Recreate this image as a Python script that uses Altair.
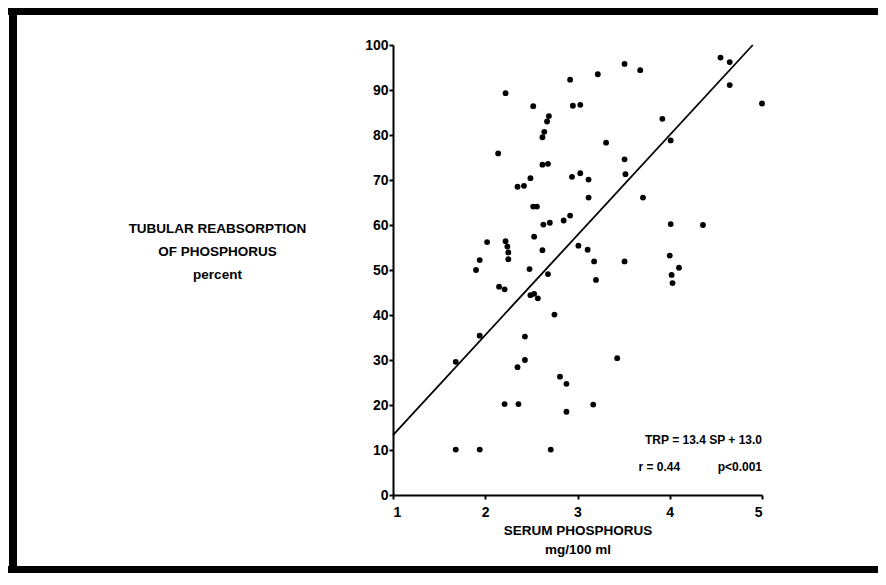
import altair as alt
import pandas as pd

# Serum phosphorus (mg/100 ml) and tubular reabsorption of phosphorus (percent)
sp = [2.22, 2.52, 2.14, 2.49, 2.35, 2.42, 2.92, 3.22, 3.51, 3.68,
      2.95, 3.03, 2.69, 2.67, 2.64, 2.62, 2.62, 2.68, 2.94, 3.03,
      3.12, 3.31, 3.51, 3.52, 3.92, 4.01, 4.55, 4.65, 4.65, 5.00,
      2.52, 2.56, 1.90, 1.94, 2.02, 2.22, 2.24, 2.25, 2.25, 2.15,
      2.21, 2.53, 2.48, 2.49, 2.53, 2.57, 1.94, 2.43, 3.12, 3.71,
      2.63, 2.70, 2.85, 2.92, 4.01, 4.36, 2.62, 3.01, 3.11, 3.18,
      3.51, 4.00, 4.10, 4.02, 4.03, 3.20, 2.68, 2.75, 1.68, 2.35,
      2.43, 2.21, 2.36, 1.68, 1.94, 3.43, 2.81, 2.88, 2.88, 3.17,
      2.71]
trp = [89.3, 86.4, 75.9, 70.4, 68.5, 68.7, 92.3, 93.5, 95.8, 94.4,
       86.5, 86.7, 84.2, 83.0, 80.7, 79.5, 73.4, 73.6, 70.7, 71.5,
       70.1, 78.3, 74.6, 71.3, 83.6, 78.8, 97.2, 96.2, 91.1, 87.0,
       64.1, 64.1, 50.0, 52.2, 56.2, 56.4, 55.2, 53.9, 52.4, 46.3,
       45.7, 57.4, 50.2, 44.4, 44.7, 43.7, 35.4, 35.2, 66.1, 66.1,
       60.1, 60.5, 61.0, 62.1, 60.2, 60.0, 54.4, 55.4, 54.5, 51.9,
       51.9, 53.2, 50.5, 48.9, 47.1, 47.8, 49.1, 40.1, 29.6, 28.4,
       30.0, 20.2, 20.2, 10.1, 10.1, 30.4, 26.3, 24.7, 18.5, 20.1,
       10.1]

# Regression line as drawn
fit_sp = [1.0, 4.9]
fit_trp = [13.3, 100.0]

# Annotations
note_right_text = ["TRP = 13.4 SP + 13.0", "p<0.001"]
note_right_sp = [5.0, 5.0]
note_right_trp = [12.2, 6.2]
note_left_text = ["r = 0.44"]
note_left_sp = [3.66]
note_left_trp = [6.2]

x_ticks = [1, 2, 3, 4, 5]
y_ticks = [0, 10, 20, 30, 40, 50, 60, 70, 80, 90, 100]

FONT = "Liberation Sans"

pts = pd.DataFrame({"sp": sp, "trp": trp})
fit = pd.DataFrame({"sp": fit_sp, "trp": fit_trp})
nr = pd.DataFrame({"sp": note_right_sp, "trp": note_right_trp, "t": note_right_text})
nl = pd.DataFrame({"sp": note_left_sp, "trp": note_left_trp, "t": note_left_text})
one = pd.DataFrame({"k": [0]})

xscale = alt.Scale(domain=[1, 5], nice=False, zero=False)
yscale = alt.Scale(domain=[0, 100], nice=False, zero=False)

xaxis = alt.Axis(values=x_ticks, format="d", title=["SERUM PHOSPHORUS", "mg/100 ml"],
                 titleFontSize=13.5, titleFont=FONT, titleFontWeight="bold",
                 titleBaseline="top", titleY=28, titleLineHeight=19, titleColor="black",
                 labelPadding=6)
yaxis = alt.Axis(values=y_ticks, format="d",
                 title=["TUBULAR REABSORPTION", "OF PHOSPHORUS", "percent"],
                 titleAngle=0, titleAlign="center", titleBaseline="top",
                 titleX=-176, titleY=176, titleLineHeight=23,
                 titleFontSize=13.5, titleFont=FONT, titleFontWeight="bold",
                 titleColor="black", labelPadding=1)

points = alt.Chart(pts).mark_circle(size=34, color="black", opacity=1).encode(
    x=alt.X("sp:Q", scale=xscale, axis=xaxis),
    y=alt.Y("trp:Q", scale=yscale, axis=yaxis),
)

line = alt.Chart(fit).mark_line(color="black", strokeWidth=1.8).encode(
    x=alt.X("sp:Q", scale=xscale),
    y=alt.Y("trp:Q", scale=yscale),
)

txt_r = alt.Chart(nr).mark_text(align="right", baseline="middle", font=FONT,
                                fontWeight="bold", fontSize=12, color="black").encode(
    x=alt.X("sp:Q", scale=xscale), y=alt.Y("trp:Q", scale=yscale), text="t:N")
txt_l = alt.Chart(nl).mark_text(align="left", baseline="middle", font=FONT,
                                fontWeight="bold", fontSize=12, color="black").encode(
    x=alt.X("sp:Q", scale=xscale), y=alt.Y("trp:Q", scale=yscale), text="t:N")

frame_top = alt.Chart(one).mark_rule(color="black", strokeWidth=7).encode(
    x=alt.value(-385), x2=alt.value(485), y=alt.value(-33.5))
frame_bottom = alt.Chart(one).mark_rule(color="black", strokeWidth=7).encode(
    x=alt.value(-385), x2=alt.value(485), y=alt.value(524.5))
frame_left = alt.Chart(one).mark_rule(color="black", strokeWidth=8).encode(
    x=alt.value(-380), y=alt.value(-37), y2=alt.value(528))

chart = alt.layer(points, line, txt_r, txt_l, frame_top, frame_bottom, frame_left).properties(
    width=369, height=450,
    autosize=alt.AutoSizeParams(type="none"),
    padding={"left": 385, "top": 37, "right": 116, "bottom": 78},
    background="white",
).configure_view(stroke="transparent").configure_axis(
    grid=False, domainColor="black", domainWidth=2, tickColor="black", tickWidth=2,
    tickSize=4, labelFont=FONT, labelFontWeight="bold", labelFontSize=14,
    labelColor="black",
)

chart.save("out.html", embed_options={"renderer": "svg", "actions": False})
